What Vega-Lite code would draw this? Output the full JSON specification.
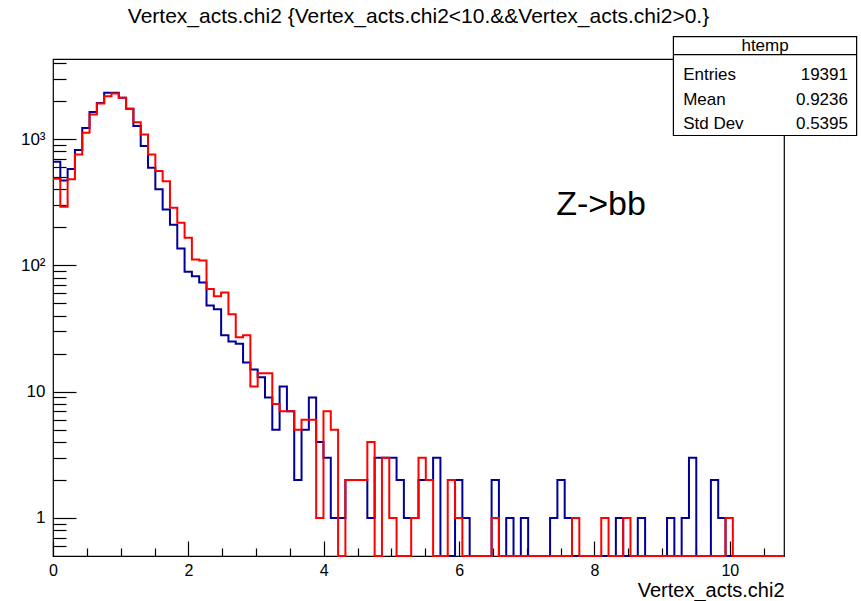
{
  "$schema": "https://vega.github.io/schema/vega-lite/v6.json",
  "width": 731,
  "height": 497,
  "autosize": {"type": "none"},
  "padding": {"left": 53, "top": 59, "right": 77, "bottom": 45},
  "background": "white",
  "config": {
    "view": {"stroke": "black", "strokeWidth": 1.2},
    "font": "Liberation Sans",
    "axis": {"labelFont": "Liberation Sans", "titleFont": "Liberation Sans", "domain": false, "grid": false, "tickColor": "black", "labelColor": "black", "titleColor": "black", "titleFontWeight": "normal", "tickWidth": 1.2}
  },
  "title": {"text": "Vertex_acts.chi2 {Vertex_acts.chi2<10.&&Vertex_acts.chi2>0.}", "font": "Liberation Sans", "fontSize": 21, "fontWeight": "normal", "color": "black", "anchor": "middle", "offset": 9},
  "datasets": {
    "hist": [
      {"x": 0, "b": 660, "r": 485},
      {"x": 0.108, "b": 470, "r": 291},
      {"x": 0.216, "b": 580, "r": 480},
      {"x": 0.324, "b": 820, "r": 754},
      {"x": 0.432, "b": 1220, "r": 1120},
      {"x": 0.54, "b": 1640, "r": 1563},
      {"x": 0.648, "b": 1930, "r": 1909},
      {"x": 0.756, "b": 2320, "r": 2180},
      {"x": 0.864, "b": 2320, "r": 2290},
      {"x": 0.972, "b": 2120, "r": 2120},
      {"x": 1.08, "b": 1740, "r": 1740},
      {"x": 1.188, "b": 1270, "r": 1360},
      {"x": 1.296, "b": 880, "r": 1086},
      {"x": 1.404, "b": 592, "r": 754},
      {"x": 1.512, "b": 400, "r": 557},
      {"x": 1.62, "b": 277, "r": 464},
      {"x": 1.728, "b": 210, "r": 286},
      {"x": 1.836, "b": 136, "r": 217},
      {"x": 1.944, "b": 89, "r": 165},
      {"x": 2.052, "b": 82, "r": 111},
      {"x": 2.16, "b": 73, "r": 109},
      {"x": 2.268, "b": 48, "r": 65},
      {"x": 2.376, "b": 45, "r": 57},
      {"x": 2.484, "b": 28, "r": 61},
      {"x": 2.592, "b": 25, "r": 41},
      {"x": 2.7, "b": 24, "r": 27},
      {"x": 2.808, "b": 17, "r": 28},
      {"x": 2.916, "b": 15, "r": 11},
      {"x": 3.024, "b": 13, "r": 14},
      {"x": 3.132, "b": 9, "r": 14},
      {"x": 3.24, "b": 5, "r": 8},
      {"x": 3.348, "b": 11, "r": 7},
      {"x": 3.456, "b": 7, "r": 7},
      {"x": 3.564, "b": 2, "r": 5},
      {"x": 3.672, "b": 5, "r": 6},
      {"x": 3.78, "b": 9, "r": 6},
      {"x": 3.888, "b": 4, "r": 1},
      {"x": 3.996, "b": 3, "r": 7},
      {"x": 4.104, "b": 1, "r": 5},
      {"x": 4.212, "b": 1, "r": 0},
      {"x": 4.32, "b": 2, "r": 2},
      {"x": 4.428, "b": 2, "r": 2},
      {"x": 4.536, "b": 2, "r": 2},
      {"x": 4.644, "b": 1, "r": 4},
      {"x": 4.752, "b": 3, "r": 0},
      {"x": 4.86, "b": 3, "r": 3},
      {"x": 4.968, "b": 3, "r": 1},
      {"x": 5.076, "b": 2, "r": 0},
      {"x": 5.184, "b": 1, "r": 0},
      {"x": 5.292, "b": 1, "r": 1},
      {"x": 5.4, "b": 2, "r": 3},
      {"x": 5.508, "b": 2, "r": 2},
      {"x": 5.616, "b": 3, "r": 0},
      {"x": 5.724, "b": 0, "r": 0},
      {"x": 5.832, "b": 0, "r": 2},
      {"x": 5.94, "b": 2, "r": 1},
      {"x": 6.048, "b": 1, "r": 0},
      {"x": 6.156, "b": 0, "r": 0},
      {"x": 6.264, "b": 0, "r": 0},
      {"x": 6.372, "b": 0, "r": 0},
      {"x": 6.48, "b": 2, "r": 1},
      {"x": 6.588, "b": 0, "r": 0},
      {"x": 6.696, "b": 1, "r": 0},
      {"x": 6.804, "b": 0, "r": 0},
      {"x": 6.912, "b": 1, "r": 0},
      {"x": 7.02, "b": 0, "r": 0},
      {"x": 7.128, "b": 0, "r": 0},
      {"x": 7.236, "b": 0, "r": 0},
      {"x": 7.344, "b": 1, "r": 0},
      {"x": 7.452, "b": 2, "r": 0},
      {"x": 7.56, "b": 1, "r": 0},
      {"x": 7.668, "b": 0, "r": 1},
      {"x": 7.776, "b": 0, "r": 0},
      {"x": 7.884, "b": 0, "r": 0},
      {"x": 7.992, "b": 0, "r": 0},
      {"x": 8.1, "b": 0, "r": 1},
      {"x": 8.208, "b": 0, "r": 0},
      {"x": 8.316, "b": 1, "r": 0},
      {"x": 8.424, "b": 0, "r": 1},
      {"x": 8.532, "b": 0, "r": 0},
      {"x": 8.64, "b": 1, "r": 0},
      {"x": 8.748, "b": 0, "r": 0},
      {"x": 8.856, "b": 0, "r": 0},
      {"x": 8.964, "b": 0, "r": 0},
      {"x": 9.072, "b": 1, "r": 0},
      {"x": 9.18, "b": 0, "r": 0},
      {"x": 9.288, "b": 1, "r": 0},
      {"x": 9.396, "b": 3, "r": 0},
      {"x": 9.504, "b": 0, "r": 0},
      {"x": 9.612, "b": 0, "r": 0},
      {"x": 9.72, "b": 2, "r": 0},
      {"x": 9.828, "b": 1, "r": 0},
      {"x": 9.936, "b": 0, "r": 1},
      {"x": 10.044, "b": 0, "r": 0},
      {"x": 10.152, "b": 0, "r": 0},
      {"x": 10.26, "b": 0, "r": 0},
      {"x": 10.368, "b": 0, "r": 0},
      {"x": 10.476, "b": 0, "r": 0},
      {"x": 10.584, "b": 0, "r": 0},
      {"x": 10.692, "b": 0, "r": 0},
      {"x": 10.8, "b": 0, "r": 0}
    ]
  },
  "layer": [
    {
      "data": {"name": "hist"},
      "transform": [{"fold": ["b", "r"], "as": ["series", "count"]}],
      "mark": {"type": "line", "interpolate": "step-after", "strokeWidth": 2, "invalid": "show"},
      "encoding": {
        "x": {"field": "x", "type": "quantitative", "scale": {"domain": [0, 10.8], "nice": false, "zero": false},
          "axis": {"values": [0, 2, 4, 6, 8, 10], "tickSize": -15, "labelPadding": 21, "labelFontSize": 16, "labelFlush": false, "title": "Vertex_acts.chi2", "titleFontSize": 20, "titleAnchor": "end", "titlePadding": 2, "orient": "bottom"}},
        "y": {"field": "count", "type": "quantitative", "scale": {"type": "log", "domain": [0.5, 4300], "clamp": true, "nice": false},
          "axis": {"values": [1, 10, 100, 1000], "tickSize": -23, "labelPadding": 31, "labelFontSize": 17, "labelExpr": "datum.value == 1 ? '1' : datum.value == 10 ? '10' : datum.value == 100 ? '10²' : '10³'", "title": null, "orient": "left"}},
        "color": {"field": "series", "type": "nominal", "scale": {"domain": ["b", "r"], "range": ["#000099", "#ff0000"]}, "legend": null}
      }
    },
    {
      "layer": [
        {
          "data": {"values": [{"x": 9.166, "x2": 11.873, "y": 6457, "y2": 1066}]},
          "mark": {"type": "rect", "fill": "white", "stroke": "black", "strokeWidth": 1.2},
          "encoding": {
            "x": {"field": "x", "type": "quantitative", "scale": {"domain": [0, 10.8], "nice": false, "zero": false},
              "axis": {"values": [0.5, 1, 1.5, 2.5, 3, 3.5, 4.5, 5, 5.5, 6.5, 7, 7.5, 8.5, 9, 9.5, 10.5], "labels": false, "tickSize": -8, "title": null, "orient": "bottom"}},
            "x2": {"field": "x2"},
            "y": {"field": "y", "type": "quantitative", "scale": {"type": "log", "domain": [0.5, 4300], "nice": false},
              "axis": {"values": [0.6, 0.7, 0.8, 0.9, 2, 3, 4, 5, 6, 7, 8, 9, 20, 30, 40, 50, 60, 70, 80, 90, 200, 300, 400, 500, 600, 700, 800, 900, 2000, 3000, 4000], "labels": false, "tickSize": -13, "title": null, "orient": "left"}},
            "y2": {"field": "y2"}
          }
        },
        {
          "data": {"values": [{"x": 9.166, "x2": 11.873, "y": 4655}]},
          "mark": {"type": "rule", "stroke": "black", "strokeWidth": 1.2},
          "encoding": {
            "x": {"field": "x", "type": "quantitative"},
            "x2": {"field": "x2"},
            "y": {"field": "y", "type": "quantitative"}
          }
        },
        {
          "data": {"values": [{"x": 10.52, "y": 5483, "t": "htemp"}]},
          "mark": {"type": "text", "align": "center", "baseline": "middle", "fontSize": 17, "font": "Liberation Sans", "color": "black"},
          "encoding": {
            "x": {"field": "x", "type": "quantitative"},
            "y": {"field": "y", "type": "quantitative"},
            "text": {"field": "t"}
          }
        },
        {
          "data": {"values": [{"x": 9.31, "y": 3236, "t": "Entries"}, {"x": 9.31, "y": 2052, "t": "Mean"}, {"x": 9.31, "y": 1303, "t": "Std Dev"}]},
          "mark": {"type": "text", "align": "left", "baseline": "middle", "fontSize": 17, "font": "Liberation Sans", "color": "black"},
          "encoding": {
            "x": {"field": "x", "type": "quantitative"},
            "y": {"field": "y", "type": "quantitative"},
            "text": {"field": "t"}
          }
        },
        {
          "data": {"values": [{"x": 11.745, "y": 3236, "t": "19391"}, {"x": 11.745, "y": 2052, "t": "0.9236"}, {"x": 11.745, "y": 1303, "t": "0.5395"}]},
          "mark": {"type": "text", "align": "right", "baseline": "middle", "fontSize": 17, "font": "Liberation Sans", "color": "black"},
          "encoding": {
            "x": {"field": "x", "type": "quantitative"},
            "y": {"field": "y", "type": "quantitative"},
            "text": {"field": "t"}
          }
        },
        {
          "data": {"values": [{"x": 7.434, "y": 303, "t": "Z->bb"}]},
          "mark": {"type": "text", "align": "left", "baseline": "middle", "fontSize": 34, "font": "Liberation Sans", "color": "black"},
          "encoding": {
            "x": {"field": "x", "type": "quantitative"},
            "y": {"field": "y", "type": "quantitative"},
            "text": {"field": "t"}
          }
        }
      ]
    }
  ],
  "resolve": {"scale": {"y": "independent"}, "axis": {"x": "independent", "y": "independent"}}
}
